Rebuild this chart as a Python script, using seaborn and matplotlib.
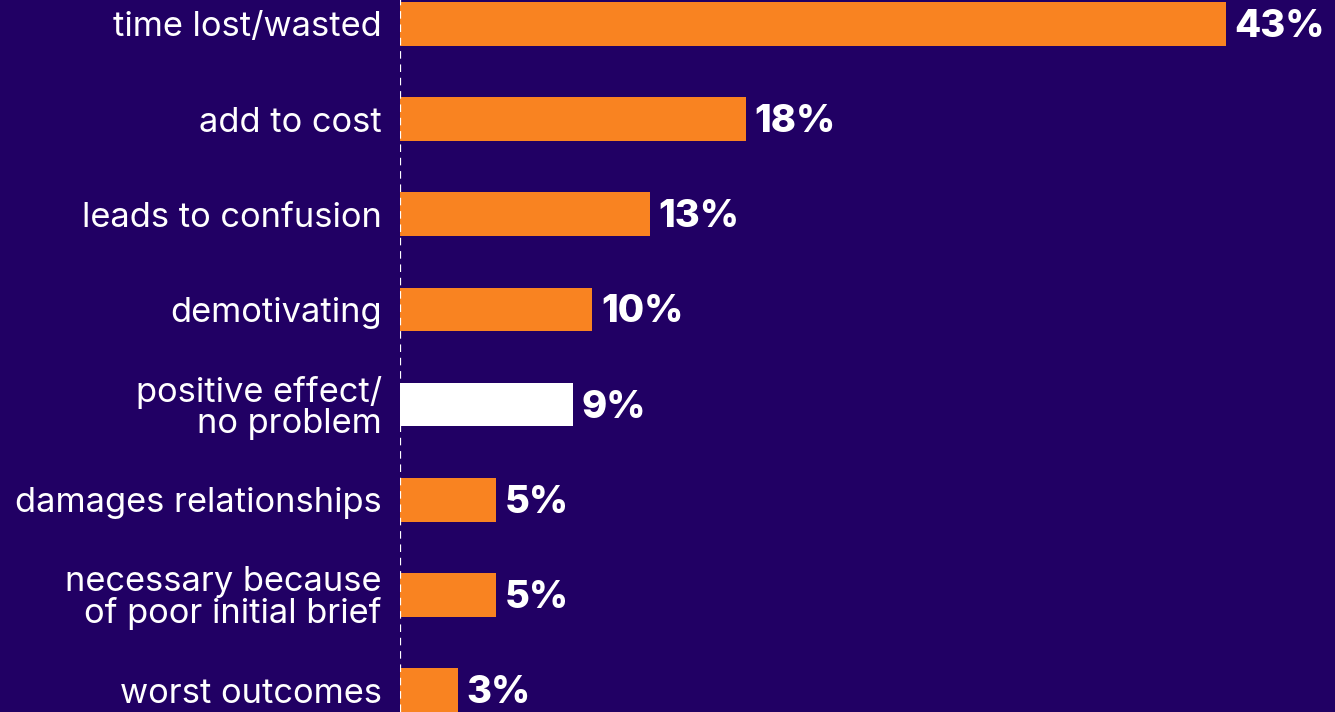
import matplotlib
matplotlib.use("Agg")
import matplotlib.pyplot as plt
import seaborn as sns
import pandas as pd

categories = [
    "time lost/wasted",
    "add to cost",
    "leads to confusion",
    "demotivating",
    "positive effect/\nno problem",
    "damages relationships",
    "necessary because\nof poor initial brief",
    "worst outcomes",
]
values = [43, 18, 13, 10, 9, 5, 5, 3]
groups = ["negative", "negative", "negative", "negative", "positive",
          "negative", "negative", "negative"]

BG = "#210064"
ORANGE = "#F98321"
WHITE = "#FFFFFF"

df = pd.DataFrame({"category": categories, "value": values, "group": groups})

sns.set_theme(style="white")
plt.rcParams["font.family"] = ["Inter", "DejaVu Sans"]

fig = plt.figure(figsize=(13.35, 7.12), dpi=100, facecolor=BG)
ax = fig.add_axes([400 / 1335, 0, 935 / 1335, 1])
ax.set_facecolor(BG)

sns.barplot(
    data=df, x="value", y="category", hue="group",
    palette={"negative": ORANGE, "positive": WHITE},
    dodge=False, width=0.46, legend=False, ax=ax, saturation=1,
    linewidth=0, edgecolor="none",
)

ax.set_xlim(0, 48.7)
ax.set_ylim(7.231, -0.252)

# value labels to the right of each bar
for i, v in enumerate(values):
    ax.annotate(f"{v}%", xy=(v, i), xytext=(9, -3), textcoords="offset pixels",
                va="center", ha="left", color=WHITE,
                fontsize=27.5, fontweight=800)

# dashed baseline at zero
ax.axvline(0, color=WHITE, lw=1.6, ls=(0, (3.4, 2.6)), zorder=5)

for s in ax.spines.values():
    s.set_visible(False)
ax.set_xticks([])
ax.set_xlabel("")
ax.set_ylabel("")
ax.tick_params(axis="y", length=0, pad=13)
for lbl in ax.get_yticklabels():
    lbl.set_color(WHITE)
    lbl.set_fontsize(24.8)
    lbl.set_linespacing(0.98)

fig.savefig("out.png", dpi=100, facecolor=BG)
